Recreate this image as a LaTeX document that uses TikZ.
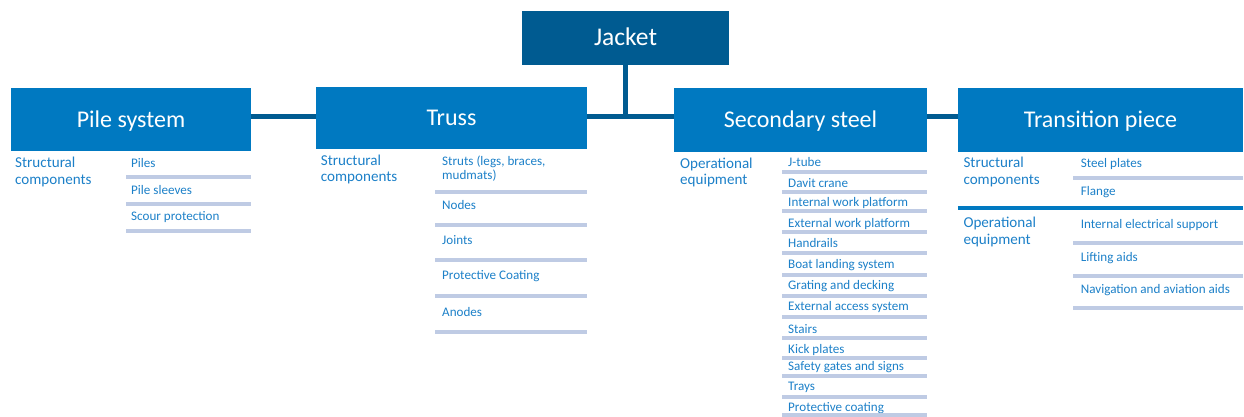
\documentclass[tikz,border=0pt]{standalone}
\usepackage{fontspec}
\setmainfont{Carlito}
\usetikzlibrary{calc}

\definecolor{jacketblue}{RGB}{0,91,145}
\definecolor{hdrblue}{RGB}{0,121,193}
\definecolor{txtblue}{RGB}{28,128,200}
\definecolor{barblue}{RGB}{191,203,228}

\tikzset{
	hdr/.style={fill=hdrblue, text=white, inner sep=0pt, text height=15.5pt, text depth=0pt, font=\fontsize{24}{28}\selectfont},
	cat/.style={text=txtblue, anchor=north west, align=left, inner sep=0pt, font=\fontsize{15.1}{16.5}\selectfont},
	itemtext/.style={text=txtblue, anchor=west, inner sep=0pt, text height=8.4pt, text depth=0pt, font=\fontsize{13.1}{15}\selectfont},
	itemtwo/.style={text=txtblue, anchor=north west, align=left, inner sep=0pt, font=\fontsize{13.1}{13.3}\selectfont},
	itembar/.style={barblue, line width=4pt},
	joinline/.style={jacketblue, line width=5pt}
}

\begin{document}
\begin{tikzpicture}[x=1pt,y=-1pt]
	\useasboundingbox (0,0) rectangle (1244,417);

	% header boxes
	\node[hdr, fill=jacketblue, minimum width=207, minimum height=54, font=\fontsize{25.5}{30}\selectfont] (jacket) at (625.5,38) {Jacket};
	\node[hdr, minimum width=240, minimum height=63] (pile) at (131,119.5) {Pile system};
	\node[hdr, minimum width=271, minimum height=62] (truss) at (451.5,118) {Truss};
	\node[hdr, minimum width=253, minimum height=64] (sec) at (800.5,120) {Secondary steel};
	\node[hdr, minimum width=285, minimum height=64] (trans) at (1100.5,120) {Transition piece};

	\coordinate (hub) at (jacket.south |- 0,117);
	\draw[joinline] (jacket.south) -- (hub);
	\draw[joinline] (pile.east |- hub) -- (truss.west |- hub);
	\draw[joinline] (truss.east |- hub) -- (sec.west |- hub);
	\draw[joinline] (sec.east |- hub) -- (trans.west |- hub);

	% pile system
	\node[cat] (pile-cat) at (15,157) {Structural\\components};
	\foreach \y/\t [count=\i] in {163.5/Piles, 190.5/Pile sleeves, 216.7/Scour protection}
		\node[itemtext] (pile-\i) at (131,\y) {\t};
	\foreach \b in {177, 204, 230.5}
		\draw[itembar] (126,\b) -- (pile.east |- 0,\b);

	% truss
	\node[cat] (truss-cat) at (320.7,154.5) {Structural\\components};
	\node[itemtwo] (truss-1) at (442,156) {Struts (legs, braces,\\mudmats)};
	\foreach \y/\t [count=\i from 2] in {205.5/Nodes, 240.5/Joints, 275.5/Protective Coating, 312/Anodes}
		\node[itemtext] (truss-\i) at (442,\y) {\t};
	\foreach \b in {191.7, 225, 260, 295.7, 332.3}
		\draw[itembar] (435,\b) -- (truss.east |- 0,\b);

	% secondary steel
	\node[cat] (sec-cat) at (680,157.8) {Operational\\equipment};
	\foreach \y/\t [count=\i] in {162.5/J-tube, 183/Davit crane, 202/Internal work platform,
		223/External work platform, 243.3/Handrails, 264.3/Boat landing system,
		285/Grating and decking, 306.5/External access system, 329/Stairs,
		349/Kick plates, 366.5/Safety gates and signs, 386.7/Trays, 407.5/Protective coating}
		\node[itemtext] (sec-\i) at (788,\y) {\t};
	\foreach \b in {172.3, 191.7, 211, 232.3, 253.3, 275, 296, 316.7, 338.3, 358.3, 375.7, 396.7, 415}
		\draw[itembar] (782,\b) -- (sec.east |- 0,\b);

	% transition piece
	\node[cat] (trans-cat1) at (963.3,157) {Structural\\components};
	\node[cat] (trans-cat2) at (963.3,217) {Operational\\equipment};
	\foreach \y/\t [count=\i] in {163/Steel plates, 191.3/Flange, 224.3/Internal electrical support,
		257/Lifting aids, 289/Navigation and aviation aids}
		\node[itemtext] (trans-\i) at (1080.7,\y) {\t};
	\foreach \b in {177.7, 242.7, 276, 308.3}
		\draw[itembar] (1073,\b) -- (trans.east |- 0,\b);
	\draw[hdrblue, line width=4pt] (trans.west |- 0,207.7) -- (trans.east |- 0,207.7);
\end{tikzpicture}
\end{document}
